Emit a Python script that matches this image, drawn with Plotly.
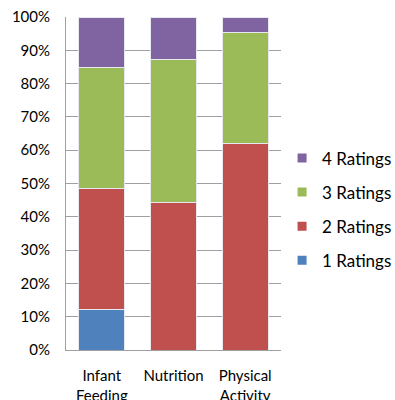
import plotly.graph_objects as go

categories = ["Infant<br>Feeding", "Nutrition", "Physical<br>Activity"]
r1 = [12.1, 0.0, 0.0]
r2 = [36.4, 44.4, 62.1]
r3 = [36.4, 42.9, 33.3]
r4 = [15.1, 12.7, 4.6]
series_names = ["1 Ratings", "2 Ratings", "3 Ratings", "4 Ratings"]
colors = ["#4F81BD", "#C0504D", "#9BBB59", "#8064A2"]
values = [r1, r2, r3, r4]

fig = go.Figure()
for i, (name, vals, col) in enumerate(zip(series_names, values, colors)):
    fig.add_trace(go.Bar(
        x=categories, y=vals, name=name, showlegend=False,
        marker=dict(color=col, line=dict(color="#E8E8F0", width=1)),
    ))
for i, (name, col) in enumerate(zip(series_names, colors)):
    fig.add_trace(go.Scatter(
        x=[None], y=[None], mode="markers", name=name, legendgroup=name,
        legendrank=len(series_names) - i,
        marker=dict(color=col, symbol="square", size=9),
    ))

font = "Lato, 'Open Sans', sans-serif"
fig.update_layout(
    barmode="stack", bargap=0.36,
    width=395, height=400,
    margin=dict(l=66, r=114, t=17, b=50, autoexpand=False),
    paper_bgcolor="white", plot_bgcolor="white",
    font=dict(family=font, size=15, color="#000000"),
    legend=dict(traceorder="grouped", x=1.005, xanchor="left",
                y=0.422, yanchor="middle", tracegroupgap=9,
                font=dict(size=17), itemwidth=30, bgcolor="rgba(0,0,0,0)"),
    yaxis=dict(range=[0, 100], dtick=10, ticksuffix="%", showgrid=True,
               gridcolor="#A0A0A0", gridwidth=1, showline=True, linecolor="#A0A0A0",
               ticks="", ticklabelstandoff=12, zeroline=False, automargin=False,
               tickfont=dict(size=15)),
    xaxis=dict(showline=True, linecolor="#A0A0A0", ticks="", ticklabelstandoff=12,
               automargin=False, tickfont=dict(size=15)),
)
fig.write_html("out.html")
